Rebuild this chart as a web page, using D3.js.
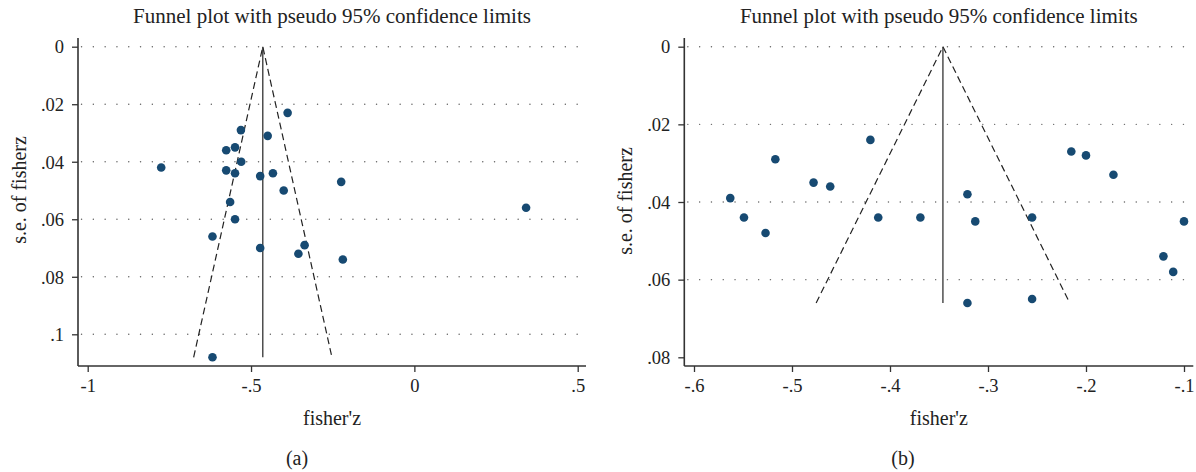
<!DOCTYPE html>
<html>
<head>
  <title>Funnel plots</title>
  <style>
body { margin: 0px; background: #fff; }
text { font-family: "Liberation Serif", "Times New Roman", serif; fill: #222; }
  </style>
  <script src="https://cdnjs.cloudflare.com/ajax/libs/d3/7.8.5/d3.min.js"></script>
</head>
<body>
</body>
<script>
// panel (a)
var zA  = [-0.775, -0.576, -0.549, -0.531, -0.530, -0.576, -0.549, -0.472, -0.449, -0.433, -0.388,
           -0.400, -0.564, -0.549, -0.618, -0.472, -0.355, -0.618, -0.224, 0.342, -0.336, -0.219];
var seA = [0.042, 0.036, 0.035, 0.029, 0.040, 0.043, 0.044, 0.045, 0.031, 0.044, 0.023,
           0.050, 0.054, 0.060, 0.066, 0.070, 0.072, 0.108, 0.047, 0.056, 0.069, 0.074];
var pooledA = -0.464;
var xTicksA = [-1, -0.5, 0, 0.5];
var yTicksA = [0, 0.02, 0.04, 0.06, 0.08, 0.1];
var gridA   = [0, 0.02, 0.04, 0.06, 0.08, 0.1];

// panel (b)
var zB  = [-0.563, -0.549, -0.527, -0.517, -0.478, -0.461, -0.420, -0.412, -0.369, -0.321,
           -0.313, -0.255, -0.215, -0.200, -0.172, -0.100, -0.321, -0.255, -0.121, -0.111];
var seB = [0.039, 0.044, 0.048, 0.029, 0.035, 0.036, 0.024, 0.044, 0.044, 0.038,
           0.045, 0.044, 0.027, 0.028, 0.033, 0.045, 0.066, 0.065, 0.054, 0.058];
var pooledB = -0.346;
var xTicksB = [-0.6, -0.5, -0.4, -0.3, -0.2, -0.1];
var yTicksB = [0, 0.02, 0.04, 0.06, 0.08];
var gridB   = [0, 0.02, 0.04, 0.06];

var title = "Funnel plot with pseudo 95% confidence limits";

var svg = d3.select("body").append("svg")
    .attr("width", 1196)
    .attr("height", 472);

function fmt(v) {
  if (v == 0) return "0";
  var s = String(+v.toFixed(2));
  return s.replace("0.", ".");
}

function drawPanel(o) {
  var x = d3.scaleLinear().domain(o.xdom).range(o.xrange);
  var y = d3.scaleLinear().domain(o.ydom).range(o.yrange);
  var g = svg.append("g");

  // dotted grid
  g.selectAll(".grid").data(o.grid).enter().append("line")
      .attr("x1", o.left + 3.5).attr("x2", o.right)
      .attr("y1", function(d){ return y(d); })
      .attr("y2", function(d){ return y(d); })
      .attr("stroke", "#666")
      .attr("stroke-width", 1.4)
      .attr("stroke-linecap", "round")
      .attr("stroke-dasharray", "0.1 11.7");

  // funnel
  var semax = d3.max(o.se);
  var c = o.pooled;
  g.append("path")
      .attr("d", "M" + x(c - 1.96*semax) + "," + y(semax) + "L" + x(c) + "," + y(0) + "L" + x(c + 1.96*semax) + "," + y(semax))
      .attr("fill", "none")
      .attr("stroke", "#222")
      .attr("stroke-width", 1.2)
      .attr("stroke-dasharray", "7 4");
  g.append("line")
      .attr("x1", x(c)).attr("x2", x(c))
      .attr("y1", y(0)).attr("y2", y(semax))
      .attr("stroke", "#333")
      .attr("stroke-width", 1.3);

  // points
  g.selectAll(".pt").data(o.z).enter().append("circle")
      .attr("cx", function(d){ return x(d); })
      .attr("cy", function(d, i){ return y(o.se[i]); })
      .attr("r", 4.3)
      .attr("fill", "#174a72");

  // axes
  var yAxis = d3.axisLeft(y).tickValues(o.yticks).tickSize(6).tickPadding(8).tickFormat(fmt);
  var ya = g.append("g").attr("transform", "translate(" + o.left + ",0)").call(yAxis);
  ya.select(".domain").remove();
  ya.append("line").attr("x1", 0).attr("x2", 0).attr("y1", o.top).attr("y2", o.bottom);

  var xAxis = d3.axisBottom(x).tickValues(o.xticks).tickSize(6).tickPadding(7).tickFormat(fmt);
  var xa = g.append("g").attr("transform", "translate(0," + o.bottom + ")").call(xAxis);
  xa.select(".domain").remove();
  xa.append("line").attr("x1", o.left).attr("x2", o.right).attr("y1", 0).attr("y2", 0);

  g.selectAll(".tick line").attr("stroke", "#333").attr("stroke-width", 1.3);
  ya.select(":scope > line").attr("stroke", "#333").attr("stroke-width", 1.6);
  xa.select(":scope > line").attr("stroke", "#333").attr("stroke-width", 1.6);
  g.selectAll(".tick text")
      .attr("font-family", "Liberation Serif")
      .attr("font-size", 18.5)
      .attr("fill", "#222");
  ya.selectAll(".tick text").attr("dy", "0.34em");

  var mid = (o.left + o.right) / 2;
  g.append("text").attr("x", mid).attr("y", 23).attr("text-anchor", "middle")
      .attr("font-size", 21).text(title);
  g.append("text").attr("x", mid).attr("y", 425).attr("text-anchor", "middle")
      .attr("font-size", 20).text("fisher'z");
  g.append("text")
      .attr("transform", "translate(" + o.ytx + "," + o.yty + ") rotate(-90)")
      .attr("text-anchor", "middle")
      .attr("font-size", 20).text("s.e. of fisherz");
  g.append("text").attr("x", o.capx).attr("y", 465).attr("text-anchor", "middle")
      .attr("font-size", 20).text(o.cap);
}

drawPanel({
  z: zA, se: seA, pooled: pooledA,
  xdom: [-1, 0.5], xrange: [87.7, 577.7],
  ydom: [0, 0.1], yrange: [46.7, 334.3],
  xticks: xTicksA, yticks: yTicksA, grid: gridA,
  left: 78, right: 586, top: 38, bottom: 366,
  ytx: 26, yty: 190, capx: 297, cap: "(a)"
});

drawPanel({
  z: zB, se: seB, pooled: pooledB,
  xdom: [-0.6, -0.1], xrange: [694, 1184],
  ydom: [0, 0.08], yrange: [46.7, 357.3],
  xticks: xTicksB, yticks: yTicksB, grid: gridB,
  left: 684.3, right: 1193.3, top: 38, bottom: 366,
  ytx: 632, yty: 201, capx: 903, cap: "(b)"
});
</script>
</html>
